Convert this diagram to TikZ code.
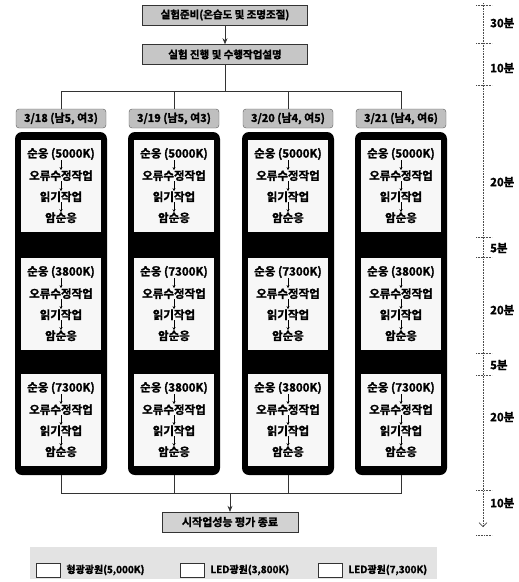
\documentclass[tikz,border=0pt]{standalone}
\usepackage{fontspec}
\setmainfont{Noto Sans CJK KR}[BoldFont={Noto Sans CJK KR Bold}, BoldFeatures={FakeBold=1.5}]
\usetikzlibrary{arrows.meta, positioning, calc}

\begin{document}
\begin{tikzpicture}[
    x=1pt, y=-1pt,
    every node/.style={font=\bfseries, align=center, inner sep=0pt},
    topbox/.style={rectangle, draw=black!80, fill=gray!45, minimum width=165pt, minimum height=20pt, font=\bfseries\fontsize{10.5}{12}\selectfont},
    datebox/.style={rectangle, rounded corners=3pt, draw=gray!70!black, fill=gray!50, minimum width=90pt, minimum height=19pt, font=\bfseries\fontsize{11}{12}\selectfont},
    column/.style={rectangle, rounded corners=7pt, fill=black, minimum width=92pt, minimum height=343pt},
    panel/.style={rectangle, fill=gray!6, minimum width=80pt, minimum height=92pt},
    task/.style={font=\bfseries\fontsize{11.5}{12}\selectfont},
    endbox/.style={rectangle, draw=black!80, fill=gray!35, minimum width=136pt, minimum height=20pt, font=\bfseries\fontsize{11}{12}\selectfont},
    legendbox/.style={rectangle, draw=black!80, fill=white, minimum width=24pt, minimum height=14pt},
    legend/.style={font=\bfseries\fontsize{10}{12}\selectfont},
    time/.style={anchor=west, font=\bfseries\fontsize{11.5}{12}\selectfont},
    tick/.style={densely dotted, line width=0.6pt, draw=gray!60!black},
    link/.style={line width=0.7pt, draw=black!80},
    arrow/.style={-{Stealth[length=6pt, width=5pt]}, line width=0.7pt, draw=black!80},
    smallarrow/.style={-{Stealth[length=3pt, width=3pt]}, line width=0.5pt}
]
\useasboundingbox (0,0) rectangle (519,582);

% Nodes
\node (prep) [topbox] at (225,15) {실험준비(온습도 및 조명조절)};
\node (intro) [topbox, below=19pt of prep] {실험 진행 및 수행작업설명};
\coordinate (split) at (225,91);
\coordinate (merge) at (230,493);
\node (finish) [endbox] at (230,522) {시작업성능 평가 종료};

% Sessions
\foreach \c/\x/\dd/\m/\f/\ka/\kb/\kc in {1/61/18/5/3/5000K/3800K/7300K, 2/174/19/5/3/5000K/7300K/3800K,
    3/288/20/4/5/5000K/7300K/3800K, 4/401/21/4/6/5000K/3800K/7300K} {
  \node (date\c) [datebox] at (\x,118.5) {3/\dd\ (남\m, 여\f)};
  \node (col\c) [column] at (\x,303.5) {};
  \foreach \p/\y/\k in {1/186/\ka, 2/304/\kb, 3/420/\kc} {
    \node (p\c\p) [panel] at (\x,\y) {};
    \node (a\c\p) [task, below=8pt of p\c\p.north] {순응 (\k)};
    \node (b\c\p) [task, below=10pt of a\c\p] {오류수정작업};
    \node (r\c\p) [task, below=10pt of b\c\p] {읽기작업};
    \node (d\c\p) [task, below=10pt of r\c\p] {암순응};
    \draw [smallarrow] (a\c\p) -- (b\c\p);
    \draw [smallarrow] (b\c\p) -- (r\c\p);
    \draw [smallarrow] (r\c\p) -- (d\c\p);
  }
  \draw [link] (split) -| (date\c);
  \draw [link] (col\c) |- (merge);
}

% Arrows
\draw [arrow] (prep) -- (intro);
\draw [link] (intro) -- (split);
\draw [arrow] (merge) -- (finish);

% Time scale
\draw [tick, -{Straight Barb[length=4pt]}] (483,3) -- (483,527);
\foreach \y in {5,43,85,237,257,353,375,490,535}
  \draw [tick] (476,\y) -- (492,\y);
\node [time] at (490,23) {30분};
\node [time] at (490,68) {10분};
\node [time] at (490,182) {20분};
\node [time] at (490,248) {5분};
\node [time] at (490,310) {20분};
\node [time] at (490,365) {5분};
\node [time] at (490,417) {20분};
\node [time] at (490,503) {10분};

% Legend
\node (band) [fill=gray!22, minimum width=407pt, minimum height=32pt] at (233.5,563) {};
\node (l1) [legendbox] at (48,570) {};
\node (t1) [legend, right=6pt of l1] {형광광원(5,000K)};
\node (l2) [legendbox] at (192,570) {};
\node (t2) [legend, right=6pt of l2] {LED광원(3,800K)};
\node (l3) [legendbox] at (330,570) {};
\node (t3) [legend, right=6pt of l3] {LED광원(7,300K)};

\end{tikzpicture}
\end{document}
